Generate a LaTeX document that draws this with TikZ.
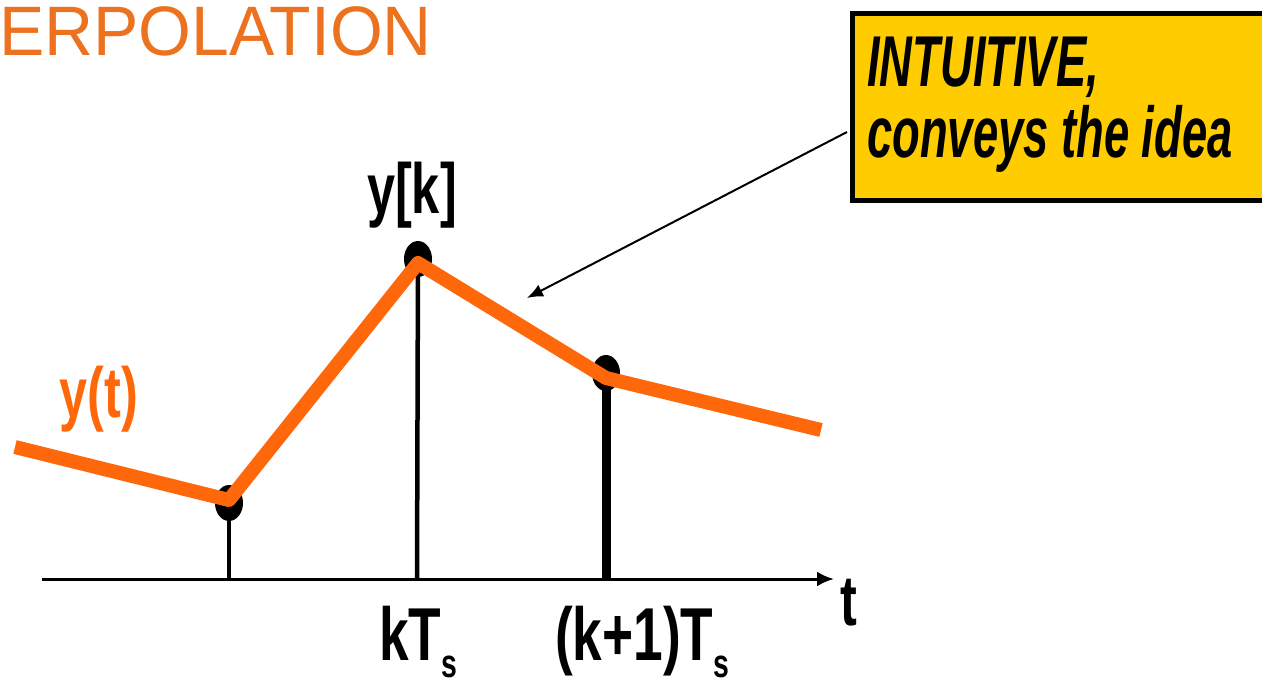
\documentclass[tikz,border=0pt]{standalone}
\usepackage{fontspec}
\usetikzlibrary{arrows.meta,shapes.geometric}
\setmainfont{Liberation Sans}
\newfontfamily\titlefont[FakeStretch=0.97]{Liberation Sans}
\newfontfamily\labfont[FakeStretch=0.71]{Liberation Sans}
\newfontfamily\boxfont[FakeStretch=0.63]{Liberation Sans}
\definecolor{curveorange}{RGB}{255,104,10}
\definecolor{titleorange}{RGB}{236,114,32}
\definecolor{boxyellow}{RGB}{255,204,0}
\tikzset{
  lab/.style={inner sep=0pt, font=\labfont\bfseries\fontsize{71}{71}\selectfont},
  boxtext/.style={inner sep=0pt, anchor=base west, font=\boxfont\bfseries\itshape\fontsize{72}{72}\selectfont},
  sampledot/.style={ellipse, fill=black, minimum width=28pt, minimum height=36pt, inner sep=0pt},
  stem/.style={line width=4.5pt, black},
  curve/.style={line width=14pt, curveorange, line join=round},
}
\begin{document}
\begin{tikzpicture}[x=1pt,y=-1pt]
\useasboundingbox (0,0) rectangle (1262,680);
% title
\node[inner sep=0pt, anchor=base west, text=titleorange, font=\titlefont\fontsize{70}{70}\selectfont] (title) at (-1,55) {ERPOLATION};
% axis
\coordinate (ax0) at (42,579);
\coordinate (ax1) at (834,579);
\draw[line width=3pt, -{Latex[length=17pt,width=15pt]}] (ax0) -- (ax1);
\node[lab, anchor=base] (tlab) at (849,625) {t};
% sample points
\node[sampledot] (s1) at (229,503) {};
\node[sampledot] (s2) at (418,259) {};
\node[sampledot] (s3) at (606,373) {};
\coordinate (b1) at (229,579);
\coordinate (b2) at (417,579);
\coordinate (b3) at (606,579);
\draw[stem] (s1.center) -- (b1);
\draw[stem] (s2.center) -- (b2);
\draw[stem, line width=9pt] (s3.center) -- (b3);
% interpolated curve
\coordinate (c0) at (15,447);
\coordinate (c1) at (229,500);
\coordinate (c2) at (418,263);
\coordinate (c3) at (606,378);
\coordinate (c4) at (821,430);
\draw[curve] (c0) -- (c1) -- (c2) -- (c3) -- (c4);
% labels
\node[lab, anchor=base] (yk) at (412,213) {y[k]};
\node[lab, anchor=base, text=curveorange] (yt) at (99,417) {y(t)};
\node[lab, anchor=base west, font=\labfont\bfseries\fontsize{75}{75}\selectfont] (kts) at (379,660) {kT\raisebox{-17pt}{\fontsize{40}{40}\selectfont s}};
\node[lab, anchor=base west, font=\labfont\bfseries\fontsize{75}{75}\selectfont] (k1ts) at (555,660) {(k+1)T\raisebox{-17pt}{\fontsize{40}{40}\selectfont s}};
% callout box
\node[draw=black, line width=5pt, fill=boxyellow, anchor=north west, minimum width=440pt, minimum height=187pt, inner sep=0pt] (box) at (849.5,10.5) {};
\node[boxtext] (l1) at (867,86) {INTUITIVE,};
\node[boxtext] (l2) at (867,157) {conveys the idea};
\coordinate (arrS) at (847,132);
\coordinate (arrE) at (527,298);
\draw[line width=2pt, -{Latex[length=16pt,width=13pt]}] (arrS) -- (arrE);
\end{tikzpicture}
\end{document}
